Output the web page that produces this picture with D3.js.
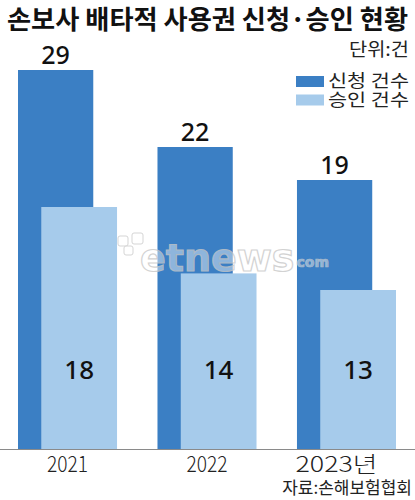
<!DOCTYPE html>
<html><head><meta charset="utf-8">
<script src="https://cdn.jsdelivr.net/npm/d3@7"></script>
<style>html,body{margin:0;padding:0;background:#fff;}svg{display:block;}</style>
</head><body>
<script>
const years = ["2021", "2022", "2023"];
const yearLabels = ["2021", "2022", "2023년"];
const applied = [29, 22, 19];
const approved = [18, 14, 13];
const seriesNames = ["신청 건수", "승인 건수"];
const title = "손보사 배타적 사용권 신청·승인 현황";
const unitText = "단위:건";
const sourceText = "자료:손해보험협회";

const W = 415, H = 500, base = 449;
const dark = "#3b7fc4", light = "#a6cbeb";
const kr = "'Noto Sans CJK KR','Noto Sans',sans-serif";

const svg = d3.select("body").append("svg").attr("width", W).attr("height", H);

const x = d3.scaleBand().domain(years).range([18, 396]).paddingInner(0.29).paddingOuter(0);
// infographic uses unequal (truncated) scales per series
const yA = d3.scaleLinear().domain([19, 29]).range([180, 70]);
const yB = d3.scaleLinear().domain([13, 18]).range([290, 207]);

const bw = x.bandwidth();
const darkW = bw * 0.76, lightOff = bw * 0.235, lightW = bw * 0.765;

// bars
svg.selectAll("rect.a").data(years).join("rect").attr("class", "a")
  .attr("x", d => x(d)).attr("width", darkW)
  .attr("y", (d, i) => yA(applied[i])).attr("height", (d, i) => base - yA(applied[i]))
  .attr("fill", dark);
svg.selectAll("rect.b").data(years).join("rect").attr("class", "b")
  .attr("x", d => x(d) + lightOff).attr("width", lightW)
  .attr("y", (d, i) => yB(approved[i])).attr("height", (d, i) => base - yB(approved[i]))
  .attr("fill", light);

// baseline
svg.append("line").attr("x1", 0).attr("x2", W).attr("y1", base + 0.5).attr("y2", base + 0.5)
  .attr("stroke", "#8a8a8a").attr("stroke-width", 1);

// value labels
svg.selectAll("text.va").data(years).join("text").attr("class", "va")
  .attr("x", d => x(d) + darkW / 2).attr("y", (d, i) => yA(applied[i]) - 6)
  .attr("text-anchor", "middle").attr("font-family", "'Noto Sans',sans-serif")
  .attr("font-size", 25).attr("font-weight", 500).attr("fill", "#111")
  .text((d, i) => applied[i]);
svg.selectAll("text.vb").data(years).join("text").attr("class", "vb")
  .attr("x", d => x(d) + lightOff + lightW / 2).attr("y", 379)
  .attr("text-anchor", "middle").attr("font-family", "'Noto Sans',sans-serif")
  .attr("font-size", 26).attr("font-weight", 500).attr("fill", "#111")
  .text((d, i) => approved[i]);

// x labels
svg.selectAll("text.xl").data(years).join("text").attr("class", "xl")
  .attr("x", (d, i) => x(d) + bw / 2 - (i === 2 ? 10 : 0)).attr("y", 472)
  .attr("text-anchor", "middle").attr("font-family", kr)
  .attr("font-size", 22).attr("font-weight", 300).attr("fill", "#222")
  .attr("textLength", (d, i) => i === 2 ? 82 : 41).attr("lengthAdjust", "spacingAndGlyphs")
  .text((d, i) => yearLabels[i]);

// watermark
const wm = svg.append("g").attr("opacity", 0.8);
const wt = wm.append("text").attr("x", 140).attr("y", 271).attr("font-family", "'DejaVu Sans',sans-serif")
  .attr("font-weight", 700).attr("fill", "#ffffff").attr("fill-opacity", 0.55)
  .attr("stroke", "#c8c8c8");
wt.append("tspan").attr("font-size", 38).attr("stroke-width", 1.2).text("etnews");
wt.append("tspan").attr("font-size", 14).attr("stroke-width", 0.7).attr("dx", 2).attr("dy", -4).text("com");
wm.append("rect").attr("x", 118).attr("y", 236).attr("width", 10).attr("height", 10).attr("rx", 2)
  .attr("fill", "#fff").attr("fill-opacity", 0.5).attr("stroke", "#ccc");
wm.append("rect").attr("x", 132).attr("y", 233).attr("width", 11).attr("height", 11).attr("rx", 2)
  .attr("fill", "#fff").attr("fill-opacity", 0.5).attr("stroke", "#ccc");
wm.append("rect").attr("x", 124).attr("y", 246).attr("width", 9).attr("height", 9).attr("rx", 2)
  .attr("fill", "#fff").attr("fill-opacity", 0.5).attr("stroke", "#ccc");

// title
svg.append("text").attr("x", 7).attr("y", 29).attr("font-family", kr)
  .attr("font-size", 26).attr("font-weight", 700).attr("fill", "#111")
  .attr("textLength", 401).attr("lengthAdjust", "spacingAndGlyphs").text(title);

// unit
svg.append("text").attr("x", 409).attr("y", 56).attr("text-anchor", "end").attr("font-family", kr)
  .attr("font-size", 18).attr("font-weight", 400).attr("fill", "#222")
  .attr("textLength", 60).attr("lengthAdjust", "spacingAndGlyphs").text(unitText);

// legend
const lg = svg.append("g");
[dark, light].forEach((c, i) => {
  lg.append("rect").attr("x", 296).attr("y", 76 + i * 18.5).attr("width", 28).attr("height", 11).attr("fill", c);
});
const lt = lg.append("text").attr("font-family", kr)
  .attr("font-size", 17).attr("font-weight", 400).attr("fill", "#222");
seriesNames.forEach((s, i) => {
  lt.append("tspan").attr("x", 328).attr("y", 87 + i * 18.5)
    .attr("textLength", 81).attr("lengthAdjust", "spacingAndGlyphs").text(s);
});

// source
svg.append("text").attr("x", 412).attr("y", 494).attr("text-anchor", "end").attr("font-family", kr)
  .attr("font-size", 17).attr("font-weight", 400).attr("fill", "#222").text(sourceText);
</script>
</body></html>
